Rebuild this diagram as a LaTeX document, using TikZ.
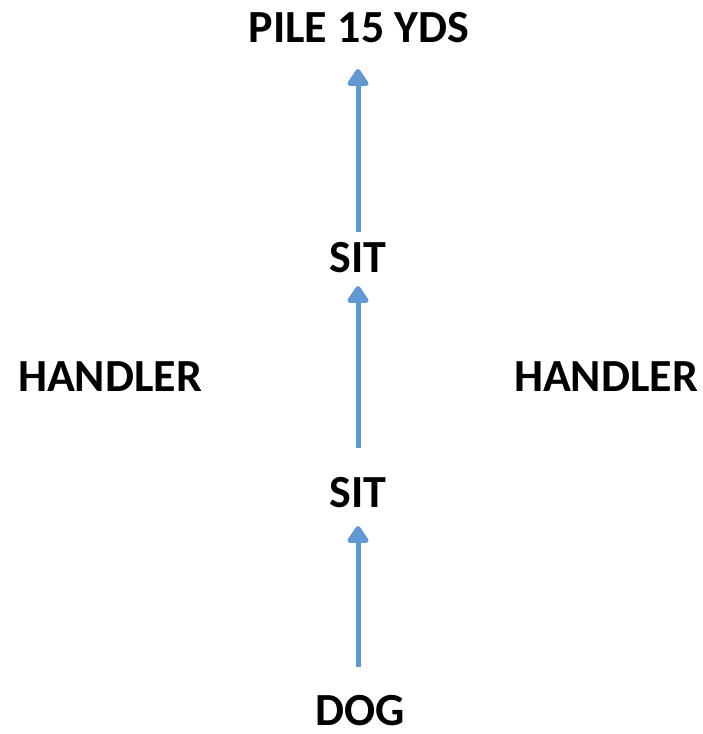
\documentclass[tikz,border=0pt]{standalone}
\usepackage{fontspec}
\setmainfont{Carlito}
\usetikzlibrary{arrows.meta}
\definecolor{myarrow}{RGB}{98, 151, 207}
\tikzset{
	label/.style={
			font=\bfseries\fontsize{46}{54}\selectfont,
			inner sep=0pt,
			text height=29pt,
			text depth=0pt
		},
	up/.style={
			draw=myarrow,
			line width=5pt,
			-{Triangle[width=24pt,length=19pt,round]}
		}
}

\begin{document}
\begin{tikzpicture}[x=1pt,y=-1pt]
	\useasboundingbox (0,0) rectangle (702,734);
	\node[label,anchor=south] (pile) at (359,43) {PILE 15 YDS};
	\node[label,anchor=south] (sitb) at (358,273) {SIT};
	\node[label,anchor=south] (sita) at (358,508) {SIT};
	\node[label,anchor=south] (dog) at (360,726) {DOG};
	\node[label,anchor=south] (hl) at (110,392) {HANDLER};
	\node[label,anchor=south] (hr) at (606,392) {HANDLER};
	\draw[up,shorten <=30pt,shorten >=18pt] (dog.north-|sita) -- (sita.south);
	\draw[up,shorten <=31pt,shorten >=13pt] (sita.north) -- (sitb.south);
	\draw[up,shorten <=12pt,shorten >=26pt] (sitb.north) -- (pile.south-|sitb);
\end{tikzpicture}
\end{document}
